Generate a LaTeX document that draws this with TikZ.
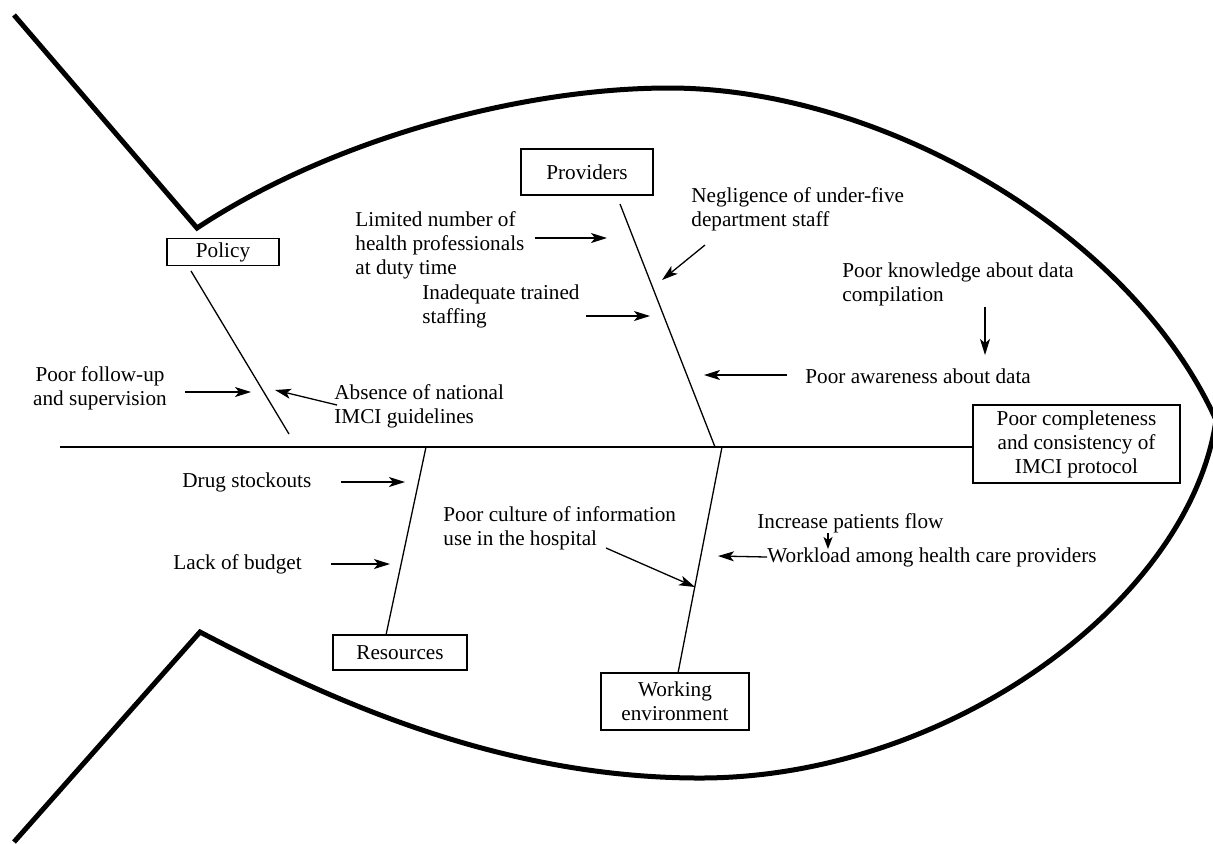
\documentclass[tikz,border=0pt]{standalone}
\usepackage{fontspec}
\setmainfont{Liberation Serif}
\usetikzlibrary{arrows.meta}

\begin{document}
\begin{tikzpicture}[x=0.5pt,y=-0.5pt,font=\fontsize{10.6}{12}\selectfont,
  box/.style={draw,line width=0.6pt,inner sep=0pt,align=center},
  cause/.style={align=left,inner sep=0pt,anchor=west},
  bone/.style={line width=0.65pt},
  arr/.style={line width=0.65pt,-{Stealth[length=8pt,width=5pt,inset=2pt]}},
  fish/.style={line width=2.5pt}]
\useasboundingbox (0,0) rectangle (1213,843);

\path[draw,fish] (14,15) -- (197,228) .. controls (330,140) and (520,88) .. (669,88)
  .. controls (880,88) and (1130,230) .. (1216,420)
  .. controls (1190,600) and (950,778) .. (700,778)
  .. controls (500,778) and (330,700) .. (200,632) -- (14,842);

\node[box,minimum width=56pt,minimum height=13.5pt] (policy) at (223,252) {Policy};
\node[box,minimum width=66pt,minimum height=23pt] (providers) at (587,172) {Providers};
\node[box,minimum width=67pt,minimum height=17.5pt] (resources) at (400,652.5) {Resources};
\node[box,minimum width=74pt,minimum height=28.5pt] (working) at (675,701.5) {Working\\environment};
\node[box,minimum width=103.5pt,minimum height=39pt] (effect) at (1076.5,444) {Poor completeness\\and consistency of\\IMCI protocol};

\coordinate (spine) at (60,447);
\coordinate (pb1) at (191,271);
\coordinate (pb2) at (289,434);
\coordinate (vb1) at (620,204);
\coordinate (vb2) at (715,447);
\coordinate (rb1) at (426,447);
\coordinate (rb2) at (386,635);
\coordinate (wb1) at (722,447);
\coordinate (wb2) at (678,673);

\path[draw,bone] (spine) -- (spine -| effect.west);
\path[draw,bone] (pb1) -- (pb2);
\path[draw,bone] (vb1) -- (vb2);
\path[draw,bone] (rb1) -- (rb2);
\path[draw,bone] (wb1) -- (wb2);

\node[align=center,inner sep=0pt] (follow) at (100,388) {Poor follow-up\\and supervision};
\node[cause] (absence) at (334,406) {Absence of national\\IMCI guidelines};
\node[cause] (limited) at (355,245) {Limited number of\\health professionals\\at duty time};
\node[cause] (neglig) at (691,209) {Negligence of under-five\\department staff};
\node[cause] (knowledge) at (842,284) {Poor knowledge about data\\compilation};
\node[cause] (inadequate) at (422,306) {Inadequate trained\\staffing};
\node[cause] (awareness) at (805,376) {Poor awareness about data};
\node[cause] (drug) at (182,482) {Drug stockouts};
\node[cause] (lack) at (173,564) {Lack of budget};
\node[cause] (culture) at (443,528) {Poor culture of information\\use in the hospital};
\node[cause] (increase) at (757,523) {Increase patients flow};
\node[cause] (workload) at (767,557) {Workload among health care providers};

\coordinate (a1s) at (185,392);
\coordinate (a1e) at (251,392);
\coordinate (a2s) at (337,405);
\coordinate (a2e) at (275,390);
\coordinate (a3s) at (535,238);
\coordinate (a3e) at (607,238);
\coordinate (a4s) at (705,245);
\coordinate (a4e) at (662,280);
\coordinate (a5s) at (586,316);
\coordinate (a5e) at (650,316);
\coordinate (a6s) at (985,307);
\coordinate (a6e) at (985,355);
\coordinate (a7s) at (787,375);
\coordinate (a7e) at (704,375);
\coordinate (a8s) at (341,482);
\coordinate (a8e) at (405,482);
\coordinate (a9s) at (331,564);
\coordinate (a9e) at (390,564);
\coordinate (a10s) at (606,548);
\coordinate (a10e) at (695,587);
\coordinate (a11s) at (828,533);
\coordinate (a11e) at (828,549);
\coordinate (a12e) at (718,556);

\path[draw,arr] (a1s) -- (a1e);
\path[draw,arr] (a2s) -- (a2e);
\path[draw,arr] (a3s) -- (a3e);
\path[draw,arr] (a4s) -- (a4e);
\path[draw,arr] (a5s) -- (a5e);
\path[draw,arr] (a6s) -- (a6e);
\path[draw,arr] (a7s) -- (a7e);
\path[draw,arr] (a8s) -- (a8e);
\path[draw,arr] (a9s) -- (a9e);
\path[draw,arr] (a10s) -- (a10e);
\path[draw,line width=0.65pt,-{Stealth[length=6pt,width=4.5pt,inset=1.5pt]}] (a11s) -- (a11e);
\path[draw,arr] (workload.west) -- (a12e);
\end{tikzpicture}
\end{document}
